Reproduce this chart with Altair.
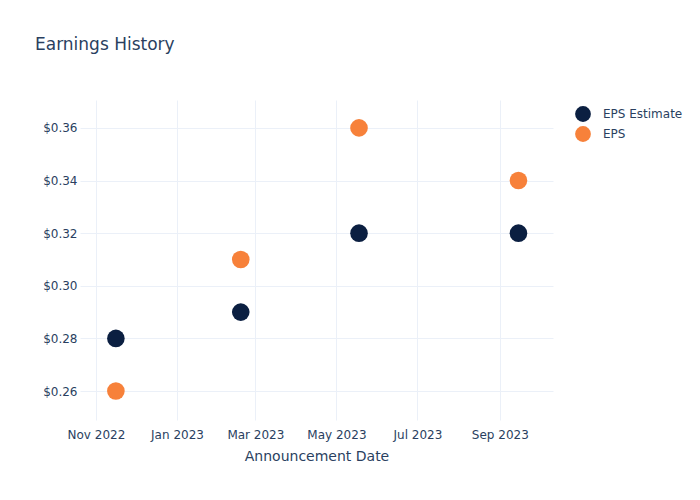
import altair as alt
import pandas as pd

dates = ["2022-11-16", "2023-02-18", "2023-05-18", "2023-09-15"]
eps_estimate = [0.28, 0.29, 0.32, 0.32]
eps_actual = [0.26, 0.31, 0.36, 0.34]
series_names = ["EPS Estimate", "EPS"]
series_colors = ["#0b1f41", "#f7813a"]

rows = []
for d, v in zip(dates, eps_estimate):
    rows.append({"date": d, "value": v, "series": "EPS Estimate"})
for d, v in zip(dates, eps_actual):
    rows.append({"date": d, "value": v, "series": "EPS"})
df = pd.DataFrame(rows)

text_color = "#2a3f5f"
grid_color = "#ebf0f8"
font = "DejaVu Sans"

tick_dates = [alt.DateTime(year=y, month=m, date=1, utc=True)
              for y, m in [(2022, 11), (2023, 1), (2023, 3), (2023, 5), (2023, 7), (2023, 9)]]

chart = alt.Chart(df).mark_circle(size=310, opacity=1).encode(
    x=alt.X("date:T",
            scale=alt.Scale(type="utc", domain=["2022-10-20", "2023-10-11"]),
            axis=alt.Axis(values=tick_dates, format="%b %Y", title="Announcement Date",
                          labelFont=font, labelFontSize=12, labelColor=text_color,
                          titleFont=font, titleFontSize=14, titleColor=text_color,
                          titleFontWeight="normal", titlePadding=9,
                          grid=True, gridColor=grid_color, domain=False, ticks=False,
                          labelPadding=9, labelFlush=False)),
    y=alt.Y("value:Q",
            scale=alt.Scale(domain=[0.249, 0.3706], nice=False, zero=False),
            axis=alt.Axis(values=[0.26, 0.28, 0.30, 0.32, 0.34, 0.36], format="$.2f", title=None,
                          labelFont=font, labelFontSize=12, labelColor=text_color,
                          grid=True, gridColor=grid_color, domain=False, ticks=False,
                          labelPadding=3)),
    color=alt.Color("series:N",
                    scale=alt.Scale(domain=series_names, range=series_colors),
                    legend=alt.Legend(title=None, orient="none", legendX=494, legendY=5,
                                      labelFont=font, labelFontSize=12, labelColor=text_color,
                                      symbolSize=250, symbolType="circle", rowPadding=3,
                                      labelOffset=11)),
    order=alt.Order("series:N", sort="descending"),
).properties(
    width=473,
    height=320,
    background="white",
    title=alt.TitleParams("Earnings History", anchor="start", frame="group", dx=-45, offset=46,
                          font=font, fontSize=17, fontWeight="normal", color=text_color),
    autosize=alt.AutoSizeParams(type="none"),
    padding={"left": 80, "top": 100, "right": 147, "bottom": 80},
).configure_view(stroke=None)

chart.save("out.html", embed_options={"renderer": "svg", "actions": False})
